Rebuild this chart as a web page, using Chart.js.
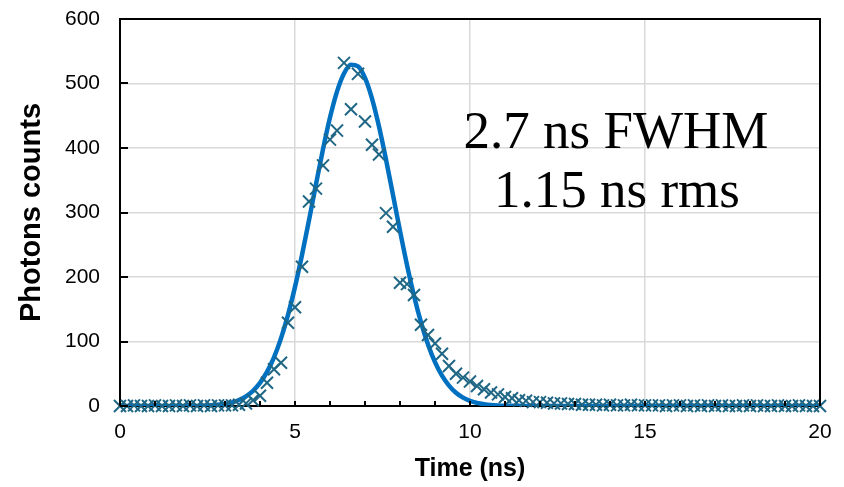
<!DOCTYPE html>
<html>
<head>
<meta charset="utf-8">
<script src="https://cdn.jsdelivr.net/npm/chart.js@4.4.1/dist/chart.umd.min.js"></script>
<style>
html,body{margin:0;padding:0;background:#fff;}
#wrap{width:844px;height:487px;position:relative;}
</style>
</head>
<body>
<div id="wrap"><canvas id="c" width="844" height="487"></canvas></div>
<script>
// Measured photon counts, one every 0.2 ns
const timeNs = [0,0.2,0.4,0.6,0.8,1,1.2,1.4,1.6,1.8,2,2.2,2.4,2.6,2.8,3,3.2,3.4,3.6,3.8,
  4,4.2,4.4,4.6,4.8,5,5.2,5.4,5.6,5.8,6,6.2,6.4,6.6,6.8,7,7.2,7.4,7.6,7.8,
  8,8.2,8.4,8.6,8.8,9,9.2,9.4,9.6,9.8,10,10.2,10.4,10.6,10.8,11,11.2,11.4,11.6,11.8,
  12,12.2,12.4,12.6,12.8,13,13.2,13.4,13.6,13.8,14,14.2,14.4,14.6,14.8,15,15.2,15.4,15.6,15.8,
  16,16.2,16.4,16.6,16.8,17,17.2,17.4,17.6,17.8,18,18.2,18.4,18.6,18.8,19,19.2,19.4,19.6,19.8,20];
const photonCounts = [0,0,1,0,0,1,0,0,1,0,1,0,1,0,1,1,1,2,4,9,
  16,36,57,67,129,153,216,317,337,373,413,427,532,460,515,441,405,390,299,278,
  191,189,172,126,110,97,81,62,50,44,38,31,26,21,18,14,12,9,8,6,
  6,5,4,4,3,3,2,2,2,1,2,1,1,2,1,1,1,1,0,1,
  1,0,1,0,1,0,1,0,0,1,0,1,0,0,1,0,0,1,0,0,0];

// Fitted curve
const fitTime = [0,2,2.2,2.4,2.6,2.8,3,3.2,3.4,3.6,3.8,4,4.2,4.4,4.6,4.8,5,5.2,5.4,5.6,5.8,
  6,6.2,6.4,6.6,6.8,7,7.2,7.4,7.6,7.8,8,8.2,8.4,8.6,8.8,9,9.2,9.4,9.6,9.8,
  10,10.2,10.4,10.6,10.8,11,11.2,11.6,20];
const fitCounts = [0,0,0.1,0.5,1,1.8,3.3,5.6,9.3,15,23.5,35.8,52.8,75.5,104.9,141.3,184.7,234.2,288,343.8,398.1,
  447.3,487.5,515.6,529,526.6,508.6,476.6,433.3,382.2,327.1,271.5,218.7,170.9,129.6,95.4,68,47.1,31.7,20.6,13,
  8,4.8,2.8,1.5,0.8,0.4,0.2,0,0];

const xTicks = [0,5,10,15,20];
const yTicks = [0,100,200,300,400,500,600];
const annotationLines = ['2.7 ns FWHM','1.15 ns rms'];
const xTitle = 'Time (ns)';
const yTitle = 'Photons counts';

const measured = timeNs.map((t,i)=>({x:t,y:photonCounts[i]}));
const fit = fitTime.map((t,i)=>({x:t,y:fitCounts[i]}));

const frame = {
  id:'frame',
  afterDatasetsDraw(chart){
    const {ctx, chartArea:a, scales:{x,y}} = chart;
    ctx.save();
    ctx.strokeStyle='#000';
    ctx.lineWidth=2;
    ctx.beginPath();
    ctx.moveTo(a.left,a.top);ctx.lineTo(a.right,a.top);ctx.lineTo(a.right,a.bottom);
    ctx.stroke();
    ctx.beginPath();
    for(const v of yTicks){const py=Math.round(y.getPixelForValue(v));ctx.moveTo(a.left,py);ctx.lineTo(a.left+8,py);}
    for(let v=0;v<=20;v++){const px=Math.round(x.getPixelForValue(v));ctx.moveTo(px,a.bottom);ctx.lineTo(px,a.bottom-5);}
    ctx.stroke();
    ctx.fillStyle='#000';
    ctx.font='53px "Liberation Serif", "Times New Roman", serif';
    ctx.textAlign='center';
    ctx.textBaseline='alphabetic';
    ctx.fillText(annotationLines[0],616,148);
    ctx.fillText(annotationLines[1],617,207);
    ctx.restore();
  }
};

new Chart(document.getElementById('c'),{
  type:'scatter',
  data:{datasets:[
    {label:'measured',data:measured,showLine:false,pointStyle:'crossRot',pointRadius:8.5,pointHoverRadius:8.5,
     borderColor:'#1F6784',backgroundColor:'#1F6784',pointBorderWidth:2,clip:false,order:0},
    {label:'fit',data:fit,showLine:true,pointRadius:0,borderColor:'#0070C0',borderWidth:4.5,
     cubicInterpolationMode:'monotone',fill:false,order:1}
  ]},
  options:{
    responsive:false,animation:false,
    layout:{padding:{top:19,right:24,left:0,bottom:0}},
    plugins:{legend:{display:false},tooltip:{enabled:false}},
    scales:{
      x:{type:'linear',min:0,max:20,
        afterBuildTicks(s){s.ticks=xTicks.map(v=>({value:v}));},
        afterFit(s){s.height=81;s.paddingLeft=0;s.paddingRight=0;},
        ticks:{padding:14,color:'#000',font:{family:'"Liberation Sans", Arial, sans-serif',size:21}},
        grid:{color:(c)=>(c.tick&&(c.tick.value===0||c.tick.value===20))?'rgba(0,0,0,0)':'#d9d9d9',lineWidth:1.5,drawTicks:false},
        border:{color:'#000',width:2},
        title:{display:true,text:xTitle,color:'#000',font:{family:'"Liberation Sans", Arial, sans-serif',size:25,weight:'bold'},padding:{top:0,bottom:3}}
      },
      y:{type:'linear',min:0,max:600,
        afterBuildTicks(s){s.ticks=yTicks.map(v=>({value:v}));},
        afterFit(s){s.width=120;s.paddingTop=0;s.paddingBottom=0;},
        ticks:{padding:20,color:'#000',font:{family:'"Liberation Sans", Arial, sans-serif',size:21}},
        grid:{color:(c)=>(c.tick&&(c.tick.value===0||c.tick.value===600))?'rgba(0,0,0,0)':'#d9d9d9',lineWidth:1.5,drawTicks:false},
        border:{color:'#000',width:2},
        title:{display:true,text:yTitle,color:'#000',font:{family:'"Liberation Sans", Arial, sans-serif',size:29,weight:'bold'},padding:{top:15,bottom:0}}
      }
    }
  },
  plugins:[frame]
});
</script>
</body>
</html>
